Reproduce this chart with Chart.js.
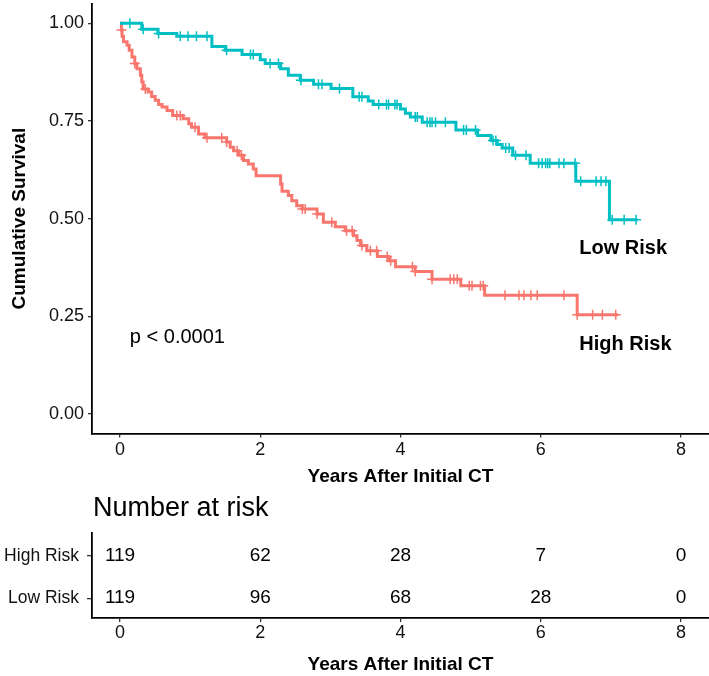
<!DOCTYPE html>
<html lang="en">
<head>
<meta charset="UTF-8">
<title>Kaplan-Meier survival by risk group</title>
<script src="https://cdn.jsdelivr.net/npm/chart.js@4.4.0/dist/chart.umd.min.js"></script>
<style>
  html, body { margin: 0; padding: 0; background: #fff; }
  #wrap { position: relative; width: 709px; height: 676px; }
  #km { position: absolute; left: 0; top: 0; }
  #risk { position: absolute; left: 0; top: 485px; }
</style>
</head>
<body>
<div id="wrap">
  <canvas id="km" width="709" height="500"></canvas>
  <canvas id="risk" width="709" height="191"></canvas>
</div>

<script>
// ---- data ----
const groups = ['High Risk', 'Low Risk'];
const xTicks = [0, 2, 4, 6, 8];
const yTicks = [0, 0.25, 0.5, 0.75, 1];
const pLabel = 'p < 0.0001';

// step points: survival drops to value at that time
const highTimes = [0, 0.02, 0.03, 0.05, 0.10, 0.13, 0.17, 0.21, 0.24, 0.29, 0.31, 0.33, 0.40, 0.45, 0.50, 0.55, 0.60,
  0.67, 0.75, 0.90, 0.98, 1.02, 1.12, 1.21, 1.52, 1.57, 1.62, 1.69, 1.76, 1.83, 1.90, 1.94, 2.29, 2.31, 2.40, 2.45,
  2.52, 2.60, 2.81, 2.90, 3.07, 3.21, 3.33, 3.38, 3.43, 3.52, 3.67, 3.83, 3.93, 4.21, 4.45, 4.86, 5.20, 6.52, 7.10];
const highSurv = [1, 0.983, 0.966, 0.953, 0.944, 0.931, 0.914, 0.897, 0.884, 0.867, 0.850, 0.832, 0.824, 0.813, 0.803,
  0.792, 0.786, 0.777, 0.764, 0.756, 0.743, 0.734, 0.717, 0.707, 0.696, 0.683, 0.674, 0.662, 0.649, 0.640, 0.627,
  0.610, 0.589, 0.570, 0.559, 0.546, 0.533, 0.525, 0.512, 0.491, 0.479, 0.469, 0.456, 0.444, 0.431, 0.418, 0.403,
  0.392, 0.377, 0.365, 0.345, 0.328, 0.304, 0.254, 0.254];
const highCensor = [0.02, 0.21, 0.36, 0.81, 0.86, 1.07, 1.24, 1.45, 1.52, 1.67, 1.73, 2.60, 2.64, 2.81, 3.02, 3.23,
  3.31, 3.45, 3.57, 3.66, 3.81, 3.86, 4.17, 4.21, 4.45, 4.71, 4.76, 4.81, 4.98, 5.02, 5.14, 5.18, 5.49, 5.69, 5.76,
  5.86, 5.95, 6.33, 6.52, 6.74, 6.88, 7.07];

const lowTimes = [0, 0.31, 0.54, 0.81, 1.31, 1.50, 1.74, 2.00, 2.07, 2.29, 2.40, 2.57, 2.76, 3.01, 3.32, 3.54, 3.61,
  4.00, 4.07, 4.14, 4.31, 4.79, 5.10, 5.29, 5.38, 5.45, 5.60, 5.85, 6.50, 6.98, 7.38];
const lowSurv = [1, 0.985, 0.974, 0.967, 0.941, 0.931, 0.920, 0.907, 0.897, 0.884, 0.867, 0.854, 0.844, 0.833, 0.812,
  0.801, 0.792, 0.781, 0.770, 0.760, 0.747, 0.727, 0.713, 0.700, 0.690, 0.681, 0.662, 0.642, 0.596, 0.497, 0.497];
const lowCensor = [0.14, 0.33, 0.55, 0.86, 0.97, 1.09, 1.24, 1.52, 1.86, 1.90, 2.14, 2.26, 2.58, 2.83, 2.88, 3.13,
  3.41, 3.45, 3.69, 3.80, 3.83, 3.92, 3.95, 4.21, 4.24, 4.38, 4.42, 4.45, 4.50, 4.64, 4.90, 4.94, 5.07, 5.32, 5.36,
  5.50, 5.55, 5.64, 5.79, 5.97, 6.02, 6.07, 6.10, 6.13, 6.26, 6.33, 6.49, 6.57, 6.79, 6.86, 6.93, 7.02, 7.19, 7.36];

// number at risk table
const riskTimes = [0, 2, 4, 6, 8];
const highAtRisk = [119, 62, 28, 7, 0];
const lowAtRisk = [119, 96, 68, 28, 0];

// ---- helpers ----
const RED = '#F8766D';
const TEAL = '#00BFC4';
const FONT = '"Liberation Sans", Arial, Helvetica, sans-serif';
Chart.defaults.font.family = FONT;
Chart.defaults.color = '#111';

function survAt(times, surv, t) {
  let s = surv[0];
  for (let i = 0; i < times.length; i++) {
    if (times[i] <= t) s = surv[i];
  }
  return s;
}

function stepData(times, surv) {
  return times.map((t, i) => ({ x: t, y: surv[i] }));
}

function censorData(times, surv, cens) {
  return cens.map(t => ({ x: t, y: survAt(times, surv, t) }));
}

const axisStyle = {
  grid: { display: true, drawOnChartArea: false, drawTicks: true, tickLength: 4, color: '#333', lineWidth: 1.3 },
  border: { display: true, color: '#000', width: 1.8 }
};

// fixed axis box sizes, no extra room for edge labels
function fixWidth(w) {
  return s => { s.width = w; s.paddingTop = 0; s.paddingBottom = 0; };
}
function fixHeight(h) {
  return s => { s.height = h; s.paddingLeft = 0; s.paddingRight = 0; };
}

// labels drawn on the survival panel
const kmNotes = {
  id: 'kmNotes',
  afterDatasetsDraw(chart) {
    const { ctx, scales: { x, y } } = chart;
    ctx.save();
    ctx.fillStyle = '#000';
    ctx.textAlign = 'left';
    ctx.textBaseline = 'alphabetic';
    ctx.font = 'bold 20px ' + FONT;
    ctx.fillText(groups[1], x.getPixelForValue(6.55), y.getPixelForValue(0.41));
    ctx.fillText(groups[0], x.getPixelForValue(6.55), y.getPixelForValue(0.164));
    ctx.font = '20px ' + FONT;
    ctx.fillText(pLabel, x.getPixelForValue(0.14), y.getPixelForValue(0.182));
    ctx.restore();
  }
};

new Chart(document.getElementById('km'), {
  type: 'line',
  data: {
    datasets: [
      {
        label: groups[1] + ' censored',
        data: censorData(lowTimes, lowSurv, lowCensor),
        showLine: false,
        pointStyle: 'cross',
        pointRadius: 5,
        pointBorderWidth: 1.5,
        borderColor: TEAL,
        pointBorderColor: TEAL
      },
      {
        label: groups[1],
        data: stepData(lowTimes, lowSurv),
        stepped: 'before',
        borderColor: TEAL,
        borderWidth: 3,
        pointRadius: 0,
        fill: false
      },
      {
        label: groups[0] + ' censored',
        data: censorData(highTimes, highSurv, highCensor),
        showLine: false,
        pointStyle: 'cross',
        pointRadius: 5,
        pointBorderWidth: 1.5,
        borderColor: RED,
        pointBorderColor: RED
      },
      {
        label: groups[0],
        data: stepData(highTimes, highSurv),
        stepped: 'before',
        borderColor: RED,
        borderWidth: 3,
        pointRadius: 0,
        fill: false
      }
    ]
  },
  options: {
    responsive: false,
    animation: false,
    layout: { autoPadding: false, padding: { top: 3.8, right: 0, bottom: 0, left: 0 } },
    plugins: { legend: { display: false }, tooltip: { enabled: false } },
    scales: {
      x: {
        type: 'linear',
        min: -0.4,
        max: 8.4,
        ...axisStyle,
        afterBuildTicks: s => { s.ticks = xTicks.map(v => ({ value: v })); },
        afterFit: fixHeight(66.5),
        ticks: { font: { size: 18 }, padding: 2, color: '#111', maxRotation: 0 },
        title: {
          display: true,
          text: 'Years After Initial CT',
          font: { size: 19, weight: 'bold' },
          color: '#000',
          padding: { top: 0, bottom: 11.6 }
        }
      },
      y: {
        type: 'linear',
        min: -0.05,
        max: 1.05,
        ...axisStyle,
        afterBuildTicks: s => { s.ticks = yTicks.map(v => ({ value: v })); },
        afterFit: fixWidth(92),
        ticks: { font: { size: 18 }, padding: 4, color: '#111', callback: v => Number(v).toFixed(2) },
        title: {
          display: true,
          text: 'Cumulative Survival',
          font: { size: 19, weight: 'bold' },
          color: '#000',
          padding: { top: 8.6, bottom: 0 }
        }
      }
    }
  },
  plugins: [kmNotes]
});

// risk table: numbers written at each time point and group row
const riskText = {
  id: 'riskText',
  afterDatasetsDraw(chart) {
    const { ctx, scales: { x, y }, chartArea } = chart;
    ctx.save();
    ctx.fillStyle = '#000';
    ctx.textAlign = 'left';
    ctx.textBaseline = 'alphabetic';
    ctx.font = '27px ' + FONT;
    ctx.fillText('Number at risk', chartArea.left + 1, 31);
    ctx.font = '19px ' + FONT;
    ctx.textAlign = 'center';
    ctx.textBaseline = 'middle';
    chart.data.datasets.forEach(ds => {
      ds.data.forEach(p => {
        ctx.fillText(String(p.n), x.getPixelForValue(p.x), y.getPixelForValue(p.y));
      });
    });
    ctx.restore();
  }
};

new Chart(document.getElementById('risk'), {
  type: 'line',
  data: {
    datasets: [
      { label: groups[0], data: riskTimes.map((t, i) => ({ x: t, y: 1, n: highAtRisk[i] })), showLine: false, pointRadius: 0 },
      { label: groups[1], data: riskTimes.map((t, i) => ({ x: t, y: 2, n: lowAtRisk[i] })), showLine: false, pointRadius: 0 }
    ]
  },
  options: {
    responsive: false,
    animation: false,
    layout: { autoPadding: false, padding: { top: 48, right: 0, bottom: 0, left: 0 } },
    plugins: { legend: { display: false }, tooltip: { enabled: false } },
    scales: {
      x: {
        type: 'linear',
        min: -0.4,
        max: 8.4,
        ...axisStyle,
        afterBuildTicks: s => { s.ticks = xTicks.map(v => ({ value: v })); },
        afterFit: fixHeight(58),
        ticks: { font: { size: 18 }, padding: 0, color: '#111', maxRotation: 0 },
        title: {
          display: true,
          text: 'Years After Initial CT',
          font: { size: 19, weight: 'bold' },
          color: '#000',
          padding: { top: 0, bottom: 0 }
        }
      },
      y: {
        type: 'linear',
        min: 0.45,
        max: 2.47,
        reverse: true,
        ...axisStyle,
        grid: { ...axisStyle.grid, tickLength: 5 },
        afterBuildTicks: s => { s.ticks = [1, 2].map(v => ({ value: v })); },
        afterFit: fixWidth(92),
        ticks: { font: { size: 17.5 }, padding: 8, color: '#111', callback: v => groups[v - 1] }
      }
    }
  },
  plugins: [riskText]
});
</script>
</body>
</html>
